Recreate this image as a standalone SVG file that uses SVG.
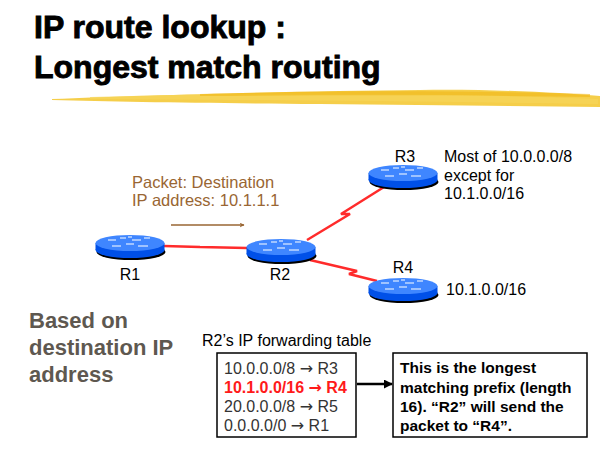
<svg xmlns="http://www.w3.org/2000/svg" width="600" height="450" viewBox="0 0 600 450">
<style>
.title{font-family:"Liberation Sans",Arial,sans-serif;font-weight:bold;font-size:32px;fill:#000;stroke:#000;stroke-width:0.9}
.lbl{font-family:"Liberation Sans",Arial,sans-serif;font-size:16px;fill:#000}
.pkt{font-family:"Liberation Sans",Arial,sans-serif;font-size:16.5px;fill:#996633}
.side{font-family:"Liberation Sans",Arial,sans-serif;font-weight:bold;font-size:22px;fill:#5e5850}
.row{font-family:"Liberation Sans",Arial,sans-serif;font-size:16px;fill:#333}
.rowhl{font-family:"Liberation Sans",Arial,sans-serif;font-size:16px;font-weight:bold;fill:#ff1a1a}
.arr{font-family:"DejaVu Sans",sans-serif;font-size:16px}
.note{font-family:"Liberation Sans",Arial,sans-serif;font-size:15.5px;font-weight:bold;fill:#000}
.link{stroke:#ff2b2b;stroke-width:2.5;fill:none;stroke-linejoin:bevel}
.box{fill:#fff;stroke:#000;stroke-width:1.5}
</style>
<defs>
<marker id="ah" viewBox="0 0 10 10" refX="9" refY="5" markerWidth="5" markerHeight="5" orient="auto" markerUnits="userSpaceOnUse">
<path d="M0,0 L10,5 L0,10 L3,5 z" fill="#996633"/>
</marker>
<marker id="ahb" viewBox="0 0 10 10" refX="9" refY="5" markerWidth="9" markerHeight="9" orient="auto" markerUnits="userSpaceOnUse">
<path d="M0,0 L10,5 L0,10 z" fill="#000"/>
</marker>
<g id="router">
<ellipse cx="1" cy="9" rx="34.5" ry="8" fill="#000"/>
<rect x="-34.5" y="0" width="69" height="7" fill="#0050e8"/>
<ellipse cx="0" cy="7" rx="34.5" ry="8" fill="#0050e8"/>
<ellipse cx="0" cy="0" rx="34.5" ry="8" fill="#3f86ff"/>
<g stroke="#fff" stroke-width="1.2" fill="none">
<path d="M-22,-3 h8 M-10,-5 h6 M2,-3 h9 M14,-5 h6 M-18,3 h9 M-4,1 h8 M8,3 h10 M-2,-6 h4"/>
</g>
</g>
</defs>

<g id="title">
<text class="title" x="34" y="38">IP route lookup :</text>
<text class="title" x="34" y="78">Longest match routing</text>
<path d="M52,99 C150,95 300,91 420,90 C500,89 560,93 600,96 L600,107 C520,106 420,105 320,104 C200,103 120,102 52,100 z" fill="#f3c52a" opacity="0.85"/>
<path d="M90,97 C250,93 400,92 598,99 L598,104 C400,101 250,100 90,99 z" fill="#f7d65a" opacity="0.7"/>
<path d="M200,94 C350,90 480,91 590,94 L590,97 C480,95 350,95 200,96 z" fill="#f0b818" opacity="0.6"/>
</g>

<g id="connectors">
<path class="link" d="M164,246 L200,247 L247,248"/>
<path class="link" d="M307,240 L350,214 L341,214 L384,187"/>
<path class="link" d="M310,260 L357,271 L349,274 L377,281"/>
<line x1="171" y1="225" x2="244" y2="225" stroke="#996633" stroke-width="1.5" marker-end="url(#ah)"/>
<line x1="357" y1="384" x2="392" y2="384" stroke="#000" stroke-width="2.5" marker-end="url(#ahb)"/>
</g>

<g id="R1"><use href="#router" x="130" y="243"/><text class="lbl" x="130" y="280" text-anchor="middle">R1</text></g>
<g id="R2"><use href="#router" x="281" y="247"/><text class="lbl" x="280" y="280" text-anchor="middle">R2</text></g>
<g id="R3"><use href="#router" x="403" y="173"/><text class="lbl" x="405" y="162" text-anchor="middle">R3</text></g>
<g id="R4"><use href="#router" x="403" y="286"/><text class="lbl" x="403" y="273" text-anchor="middle">R4</text></g>

<g id="packet-label">
<text class="pkt" x="132" y="188">Packet: Destination</text>
<text class="pkt" x="132" y="206">IP address: 10.1.1.1</text>
</g>

<g id="r3-note">
<text class="lbl" x="444" y="162">Most of 10.0.0.0/8</text>
<text class="lbl" x="444" y="181">except for</text>
<text class="lbl" x="444" y="199">10.1.0.0/16</text>
</g>
<g id="r4-note"><text class="lbl" x="446" y="295">10.1.0.0/16</text></g>

<g id="side-note">
<text class="side" x="29" y="328">Based on</text>
<text class="side" x="29" y="355">destination IP</text>
<text class="side" x="29" y="382">address</text>
</g>

<g id="table">
<text class="lbl" x="202" y="346">R2’s IP forwarding table</text>
<rect class="box" x="217" y="353" width="139" height="84"/>
<text class="row" x="224" y="374">10.0.0.0/8 <tspan class="arr">→</tspan> R3</text>
<text class="rowhl" x="224" y="393">10.1.0.0/16 <tspan class="arr">→</tspan> R4</text>
<text class="row" x="224" y="412">20.0.0.0/8 <tspan class="arr">→</tspan> R5</text>
<text class="row" x="224" y="431">0.0.0.0/0 <tspan class="arr">→</tspan> R1</text>
</g>

<g id="explanation">
<rect class="box" x="393" y="353" width="194" height="84"/>
<text class="note" x="400" y="373">This is the longest</text>
<text class="note" x="400" y="393">matching prefix (length</text>
<text class="note" x="400" y="412">16).  “R2” will send the</text>
<text class="note" x="400" y="431">packet to “R4”.</text>
</g>
</svg>
